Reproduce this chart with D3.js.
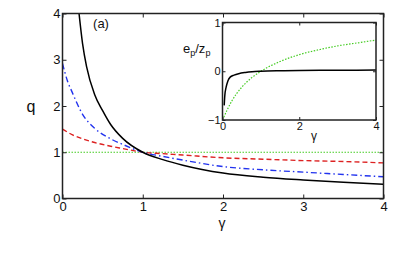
<!DOCTYPE html>
<html>
<head>
    <meta charset="UTF-8">
    <title>q vs gamma</title>
    <style>
        body{margin:0;background:#fff;}
        text{font-family:"Liberation Sans",Arial,sans-serif;fill:#111;}
    </style>
</head>
<body>
    <script src="https://cdn.jsdelivr.net/npm/d3@7/dist/d3.min.js"></script>
    <script type="text/javascript">
        // main panel data: q against gamma
        var gammaBlack = [0.2, 0.25, 0.3, 0.4, 0.5, 0.6, 0.75, 1.0, 1.25, 1.5, 2.0, 2.5, 3.0, 3.5, 4.0];
        var qBlack     = [4.1, 3.35, 2.85, 2.25, 1.9, 1.6, 1.3, 1.0, 0.84, 0.72, 0.55, 0.46, 0.40, 0.35, 0.31];

        var gammaBlue = [0, 0.06, 0.12, 0.25, 0.4, 0.6, 0.75, 1.0, 1.25, 1.5, 2.0, 2.5, 3.0, 3.5, 4.0];
        var qBlue     = [2.92, 2.55, 2.3, 1.82, 1.52, 1.29, 1.17, 1.0, 0.91, 0.83, 0.69, 0.62, 0.57, 0.52, 0.47];

        var gammaRed = [0, 0.12, 0.25, 0.4, 0.6, 0.75, 1.0, 1.25, 1.5, 2.0, 2.5, 3.0, 3.5, 4.0];
        var qRed     = [1.5, 1.38, 1.29, 1.21, 1.13, 1.08, 1.0, 0.97, 0.94, 0.88, 0.85, 0.82, 0.80, 0.77];

        var gammaGreen = [0, 4];
        var qGreen     = [1, 1];

        // inset data: e_p/z_p against gamma
        var gammaInsetBlack = [0.044, 0.06, 0.096, 0.14, 0.2, 0.3, 0.42, 0.6, 0.77, 1.0, 1.5, 2.0, 3.0, 4.0];
        var epInsetBlack    = [-0.7, -0.5, -0.32, -0.2, -0.12, -0.08, -0.05, -0.025, -0.01, 0, 0.01, 0.015, 0.02, 0.025];

        var gammaInsetGreen = [0, 0.25, 0.5, 0.75, 1.0, 1.5, 2.0, 2.5, 3.0, 3.5, 4.0];
        var epInsetGreen    = [-1, -0.6, -0.33, -0.14, 0, 0.2, 0.34, 0.44, 0.52, 0.58, 0.64];

        var mainXTicks = [0, 1, 2, 3, 4];
        var mainYTicks = [0, 1, 2, 3, 4];
        var insetXTicks = [0, 2, 4];
        var insetYTicks = [-1, 0, 1];

        var width = 415;
        var height = 257;
        var svg = d3.select("body").append("svg")
            .attr("width", width)
            .attr("height", height);

        // main plot area
        var mLeft = 62.5, mRight = 383.5, mTop = 13.5, mBottom = 198.5;
        var x = d3.scaleLinear().domain([0, 4]).range([mLeft, mRight]);
        var y = d3.scaleLinear().domain([0, 4]).range([mBottom, mTop]);

        // inset area
        var iLeft = 222.5, iRight = 376, iTop = 22.5, iBottom = 120;
        var ix = d3.scaleLinear().domain([0, 4]).range([iLeft, iRight]);
        var iy = d3.scaleLinear().domain([-1, 1]).range([iBottom, iTop]);

        svg.append("clipPath").attr("id", "mainClip")
            .append("rect")
            .attr("x", mLeft).attr("y", mTop)
            .attr("width", mRight - mLeft).attr("height", mBottom - mTop);

        function zip(xs, ys){
            return xs.map(function(v, i){ return [v, ys[i]]; });
        }

        function drawCurve(g, xs, ys, sx, sy, color, w, dash){
            var line = d3.line()
                .x(function(d){ return sx(d[0]); })
                .y(function(d){ return sy(d[1]); })
                .curve(d3.curveMonotoneX);
            g.append("path")
                .datum(zip(xs, ys))
                .attr("d", line)
                .attr("fill", "none")
                .attr("stroke", color)
                .attr("stroke-width", w)
                .attr("stroke-dasharray", dash);
        }

        // axes with inward ticks on all four sides
        function frame(sx, sy, xt, yt, tickLen, fontSize, xPad, yPad){
            var x0 = sx.range()[0], x1 = sx.range()[1];
            var y0 = sy.range()[0], y1 = sy.range()[1];
            var fmt = d3.format("d");
            var gb = svg.append("g")
                .attr("transform", "translate(0," + y0 + ")")
                .call(d3.axisBottom(sx).tickValues(xt).tickFormat(fmt).tickSizeInner(-tickLen).tickSizeOuter(0).tickPadding(xPad));
            gb.selectAll("text").attr("font-size", fontSize).attr("fill", "#111").attr("font-family", null);
            svg.append("g")
                .attr("transform", "translate(0," + y1 + ")")
                .call(d3.axisTop(sx).tickValues(xt).tickSizeInner(-tickLen).tickSizeOuter(0).tickFormat(""));
            var gl = svg.append("g")
                .attr("transform", "translate(" + x0 + ",0)")
                .call(d3.axisLeft(sy).tickValues(yt).tickFormat(fmt).tickSizeInner(-tickLen).tickSizeOuter(0).tickPadding(yPad));
            gl.selectAll("text").attr("font-size", fontSize).attr("fill", "#111").attr("font-family", null);
            svg.append("g")
                .attr("transform", "translate(" + x1 + ",0)")
                .call(d3.axisRight(sy).tickValues(yt).tickSizeInner(-tickLen).tickSizeOuter(0).tickFormat(""));
            svg.selectAll(".domain").attr("stroke", "none");
            svg.selectAll(".tick line").attr("stroke", "#222").attr("stroke-width", 1);
            svg.append("rect")
                .attr("x", x0).attr("y", y1)
                .attr("width", x1 - x0).attr("height", y0 - y1)
                .attr("fill", "none")
                .attr("stroke", "#222")
                .attr("stroke-width", 1.5);
        }

        // main curves
        var gMain = svg.append("g").attr("clip-path", "url(#mainClip)");
        drawCurve(gMain, gammaGreen, qGreen, x, y, "#44cc22", 1.2, "1.5,1.5");
        drawCurve(gMain, gammaRed, qRed, x, y, "#dd2222", 1.4, "5,3");
        drawCurve(gMain, gammaBlue, qBlue, x, y, "#2233ee", 1.4, "6,3,1.5,3");
        drawCurve(gMain, gammaBlack, qBlack, x, y, "#000", 1.5, null);

        frame(x, y, mainXTicks, mainYTicks, 4, 13, 3, 2);

        svg.append("text").attr("x", 31).attr("y", 112).attr("text-anchor", "middle")
            .attr("font-size", 16).text("q");
        svg.append("text").attr("x", 222).attr("y", 228).attr("text-anchor", "middle")
            .attr("font-size", 14).text("γ");
        svg.append("text").attr("x", 101).attr("y", 28).attr("text-anchor", "middle")
            .attr("font-size", 13).text("(a)");

        // inset
        svg.append("rect")
            .attr("x", iLeft).attr("y", iTop)
            .attr("width", iRight - iLeft).attr("height", iBottom - iTop)
            .attr("fill", "#fff");
        var gInset = svg.append("g");
        drawCurve(gInset, gammaInsetGreen, epInsetGreen, ix, iy, "#44cc22", 1.2, "1.5,1.5");
        drawCurve(gInset, gammaInsetBlack, epInsetBlack, ix, iy, "#000", 1.5, null);

        frame(ix, iy, insetXTicks, insetYTicks, 3, 11, 2, 2);

        var lab = svg.append("text").attr("x", 183).attr("y", 53).attr("font-size", 13);
        lab.append("tspan").text("e");
        lab.append("tspan").attr("font-size", 9).attr("dy", 3).text("p");
        lab.append("tspan").attr("dy", -3).text("/z");
        lab.append("tspan").attr("font-size", 9).attr("dy", 3).text("p");
        svg.append("text").attr("x", 314).attr("y", 140).attr("text-anchor", "middle")
            .attr("font-size", 12).text("γ");
    </script>
</body>
</html>
